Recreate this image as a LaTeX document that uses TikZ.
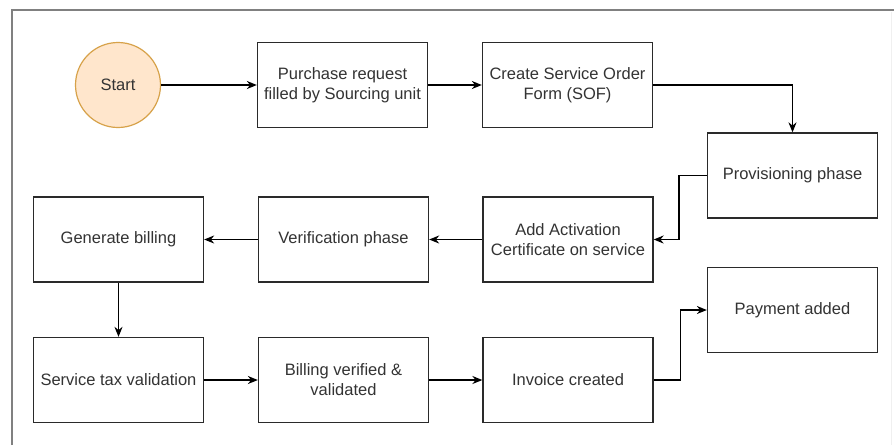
\documentclass[tikz,border=0pt]{standalone}
\usepackage{fontspec}
\setmainfont{Liberation Sans}
\usetikzlibrary{arrows.meta}
\definecolor{txt}{HTML}{333333}
\definecolor{edge}{HTML}{2A2A2A}
\definecolor{startfill}{HTML}{FFE6CC}
\definecolor{startdraw}{HTML}{D7A24A}
\definecolor{frame}{HTML}{808080}
\begin{document}
\begin{tikzpicture}[x=1pt,y=-1pt,
  stepbox/.style={draw=edge,line width=1.3pt,fill=white,minimum width=170pt,minimum height=85pt,
    align=center,font=\fontsize{16.5}{20}\selectfont,text=txt,inner sep=0pt},
  startnode/.style={circle,draw=startdraw,line width=1.2pt,fill=startfill,minimum size=85pt,
    font=\fontsize{16.5}{20}\selectfont,text=txt,inner sep=0pt},
  conn/.style={draw=black,line width=1.3pt,-{Stealth[length=10pt,width=8pt]}}]
\useasboundingbox (0,0) rectangle (894,445);
\fill[white] (0,0) rectangle (894,445);
% frame
\draw[frame!12,line width=0.8pt] (891,12) -- (891,445);
\draw[frame,line width=2.5pt] (12,445) -- (12,10) -- (894,10);
% nodes
\node[startnode] (start) at (118,85) {Start};
\node[stepbox] (pr) at (342.5,85) {Purchase request\\filled by Sourcing unit};
\node[stepbox] (sof) at (567.5,85) {Create Service Order\\Form (SOF)};
\node[stepbox] (prov) at (792.5,175.5) {Provisioning phase};
\node[stepbox] (act) at (568,239.5) {Add Activation\\Certificate on service};
\node[stepbox] (ver) at (343.5,239.5) {Verification phase};
\node[stepbox] (gen) at (118.5,239.5) {Generate billing};
\node[stepbox] (tax) at (118.5,380) {Service tax validation};
\node[stepbox] (bv) at (343.5,380) {Billing verified \&\\validated};
\node[stepbox] (inv) at (568,380) {Invoice created};
\node[stepbox] (pay) at (792.5,310) {Payment added};
% connectors
\draw[conn] (start) -- (pr);
\draw[conn] (pr) -- (sof);
\draw[conn] (sof.east) -| (prov.north);
\draw[conn] (prov.west) -- ++(-28,0) |- (act.east);
\draw[conn] (act) -- (ver);
\draw[conn] (ver) -- (gen);
\draw[conn] (gen) -- (tax);
\draw[conn] (tax) -- (bv);
\draw[conn] (bv) -- (inv);
\draw[conn] (inv.east) -- ++(27,0) |- (pay.west);
\end{tikzpicture}
\end{document}
